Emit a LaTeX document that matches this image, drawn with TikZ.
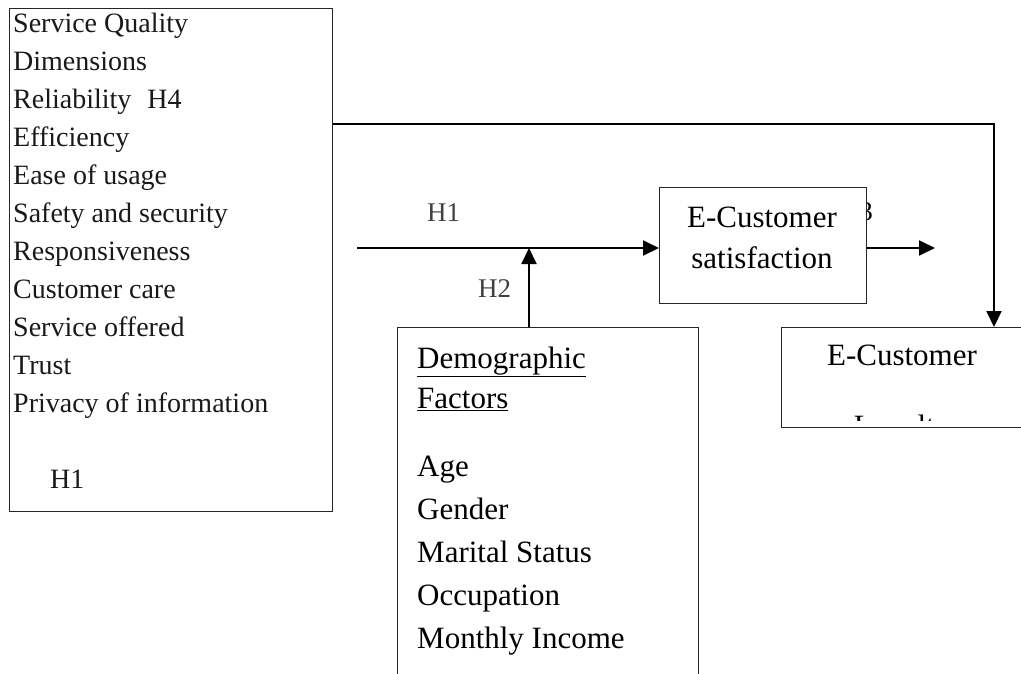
\documentclass[tikz,border=0pt]{standalone}
\usepackage{fontspec}
\setmainfont{Liberation Serif}
\usetikzlibrary{arrows.meta}
\begin{document}
\begin{tikzpicture}[x=1pt,y=-1pt,
  boxline/.style={draw=black!85, line width=1.3pt, inner sep=0pt},
  conn/.style={line width=2pt, -{Triangle[length=16pt,width=15pt]}},
  ltxt/.style={anchor=base west, inner sep=0pt, font=\fontsize{28}{30}\selectfont, text=black!90},
  rtxt/.style={anchor=base west, inner sep=0pt, font=\fontsize{31}{36}\selectfont},
  ctxt/.style={anchor=base, inner sep=0pt, font=\fontsize{31}{36}\selectfont},
  hlab/.style={anchor=base west, inner sep=0pt, text=black!75, font=\fontsize{27}{30}\selectfont}]
\useasboundingbox (0,0) rectangle (1021,673);

% Left box: service quality dimensions
\node[boxline, anchor=north west, minimum width=323pt, minimum height=503pt] (sq) at (9,8) {};
\node[ltxt] (l1) at (13,32) {Service Quality};
\node[ltxt] (l2) at (13,70) {Dimensions};
\node[ltxt] (l3) at (13,108) {Reliability\hspace{16pt}H4};
\node[ltxt] (l4) at (13,146) {Efficiency};
\node[ltxt] (l5) at (13,184) {Ease of usage};
\node[ltxt] (l6) at (13,222) {Safety and security};
\node[ltxt] (l7) at (13,260) {Responsiveness};
\node[ltxt] (l8) at (13,298) {Customer care};
\node[ltxt] (l9) at (13,336) {Service offered};
\node[ltxt] (l10) at (13,374) {Trust};
\node[ltxt] (l11) at (13,412) {Privacy of information};
\node[ltxt] (l12) at (50,488) {H1};

% H3 label partly hidden behind the satisfaction box
\node[hlab, anchor=base east, text=black] (h3) at (873,220) {H3};

% E-Customer satisfaction
\node[boxline, fill=white, anchor=north west, minimum width=207pt, minimum height=116pt] (sat) at (659,187) {};
\node[ctxt] (s1) at (762,227) {E-Customer};
\node[ctxt] (s2) at (762,268) {satisfaction};

% Demographic factors (open at the bottom)
\node[boxline, anchor=north west, minimum width=301pt, minimum height=380pt] (demo) at (397,327) {};
\node[rtxt] (d1) at (417,368) {\underline{Demographic}};
\node[rtxt] (d2) at (417,408) {\underline{Factors}};
\node[rtxt] (d3) at (417,476) {Age};
\node[rtxt] (d4) at (417,519) {Gender};
\node[rtxt] (d5) at (417,562) {Marital Status};
\node[rtxt] (d6) at (417,605) {Occupation};
\node[rtxt] (d7) at (417,648) {Monthly Income};

% E-Customer loyalty (open at the right)
\node[boxline, anchor=north west, minimum width=260pt, minimum height=100pt] (loy) at (781,327) {};
\node[ctxt] (y1) at (902,365) {E-Customer};
\begin{scope}
  \clip (782,400) rectangle (1021,420);
  \node[ctxt] (y2) at (902,436) {Loyalty};
\end{scope}

% Hypothesis labels
\node[hlab] (h1) at (427,221) {H1};
\node[hlab] (h2) at (478,297) {H2};

% Connectors
\coordinate (a0) at (357,248);
\coordinate (jn) at (529,248);
\coordinate (e1) at (935,248);
\coordinate (c1) at (994,124);
\draw[conn] (a0) -- (sat.west |- a0);
\draw[conn] (demo.north -| jn) -- (jn);
\draw[conn] (sat.east |- e1) -- (e1);
\draw[conn] (sq.east |- c1) -- (c1) -- (loy.north -| c1);
\end{tikzpicture}
\end{document}
